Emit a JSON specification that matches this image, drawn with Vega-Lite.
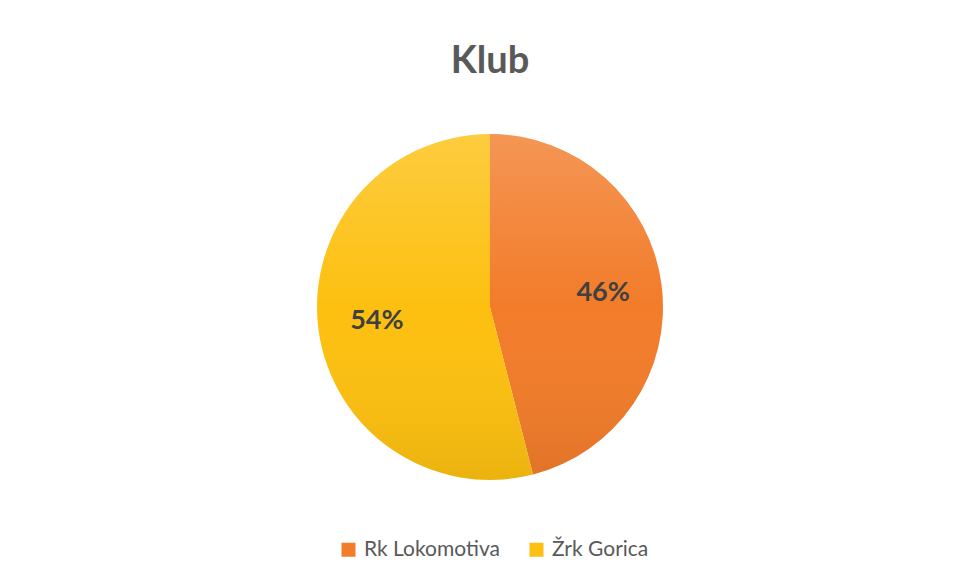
{
  "$schema": "https://vega.github.io/schema/vega-lite/v6.json",
  "width": 936,
  "height": 450,
  "autosize": {"type": "none"},
  "padding": {"left": 22, "top": 82, "right": 0, "bottom": 49},
  "background": "white",
  "title": {"text": "Klub", "font": "Lato", "fontSize": 38, "fontWeight": "bold", "color": "#595959", "anchor": "middle", "frame": "group", "offset": 1},
  "data": {"values": [
    {"klub": "Rk Lokomotiva", "udio": 0.46},
    {"klub": "Žrk Gorica", "udio": 0.54}
  ]},
  "encoding": {
    "theta": {"field": "udio", "type": "quantitative", "stack": true},
    "order": {"field": "klub", "type": "nominal"}
  },
  "layer": [
    {
      "mark": {"type": "arc", "outerRadius": 173},
      "encoding": {
        "color": {
          "field": "klub", "type": "nominal",
          "scale": {"domain": ["Rk Lokomotiva", "Žrk Gorica"], "range": ["#F27C2A", "#FDC010"]},
          "legend": {
            "orient": "none", "legendX": 316, "legendY": 457, "direction": "horizontal", "title": null,
            "symbolType": "square", "symbolSize": 196, "symbolStrokeWidth": 0,
            "labelFont": "Lato", "labelFontSize": 21, "labelColor": "#595959", "labelOffset": 5,
            "columnPadding": 26, "padding": 0
          }
        }
      }
    },
    {
      "mark": {"type": "arc", "outerRadius": 173, "color": {"gradient": "linear", "x1": 0, "y1": 0, "x2": 0, "y2": 1, "stops": [
        {"offset": 0, "color": "rgba(255,255,255,0.2)"},
        {"offset": 0.5, "color": "rgba(255,255,255,0)"},
        {"offset": 1, "color": "rgba(0,0,0,0.07)"}
      ]}},
      "encoding": {"detail": {"field": "klub", "type": "nominal"}}
    },
    {
      "mark": {"type": "text", "radius": 114, "font": "Lato", "fontSize": 27, "fontWeight": "bold", "color": "#404040"},
      "encoding": {
        "detail": {"field": "klub", "type": "nominal"},
        "text": {"field": "udio", "type": "quantitative", "format": ".0%"}
      }
    }
  ],
  "config": {"view": {"stroke": null}}
}
